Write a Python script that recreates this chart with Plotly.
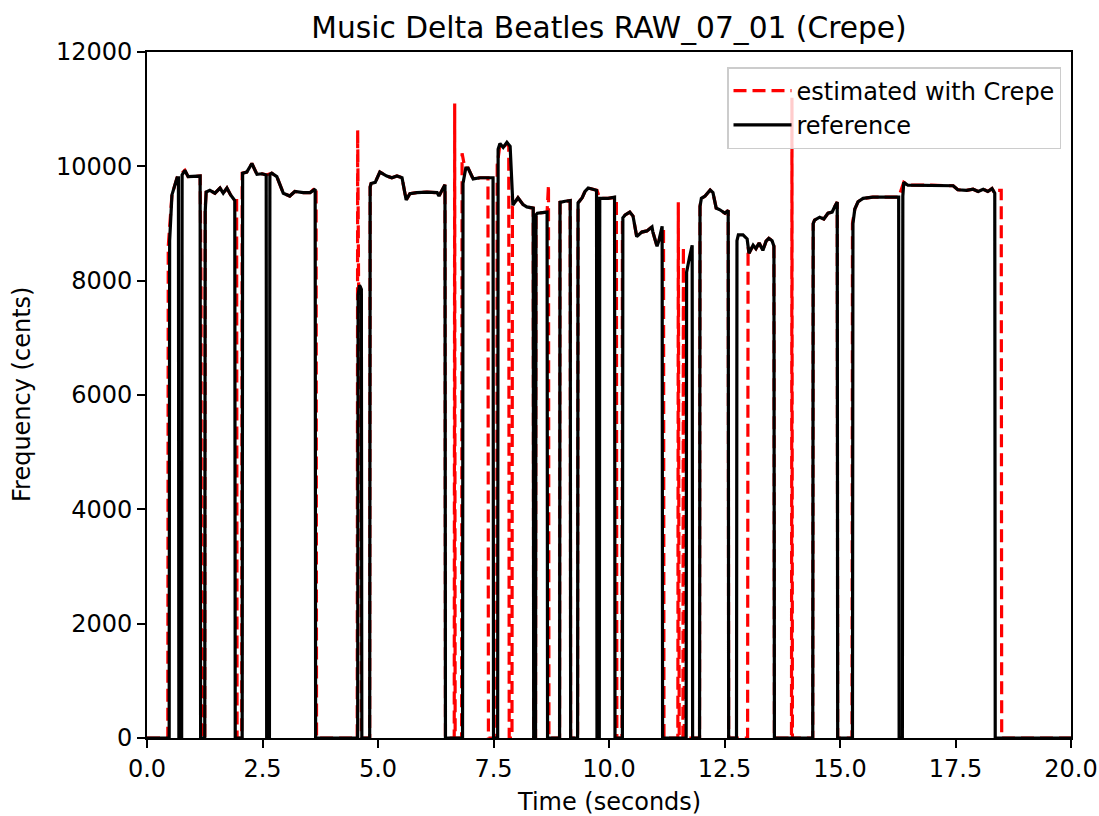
import plotly.graph_objects as go

# Reference pitch contour (seconds, cents); 0 = unvoiced
ref_time = [0.00, 0.48, 0.49, 0.54, 0.65, 0.68, 0.69, 0.75, 0.76, 0.82, 0.89, 1.15, 1.16,
            1.25, 1.26, 1.28, 1.36, 1.47, 1.58, 1.65, 1.73, 1.81, 1.90, 1.91,
            2.06, 2.07, 2.16, 2.27, 2.38, 2.49, 2.58, 2.59, 2.65, 2.66, 2.70, 2.81, 2.95, 3.09, 3.20, 3.38, 3.53, 3.64, 3.65,
            4.56, 4.57, 4.60, 4.64, 4.65,
            4.82, 4.83, 4.85, 4.94, 5.04, 5.19, 5.30, 5.41, 5.52, 5.61, 5.69, 5.84, 6.06, 6.28, 6.32, 6.45, 6.46,
            6.83, 6.84, 6.90, 6.95, 7.06, 7.21, 7.36, 7.49, 7.50,
            7.59, 7.60, 7.64, 7.71, 7.79, 7.86, 7.92, 8.03, 8.07, 8.14, 8.22, 8.36, 8.37, 8.41, 8.42, 8.45, 8.66, 8.67,
            8.93, 8.94, 9.05, 9.16, 9.17,
            9.32, 9.33, 9.42, 9.48, 9.55, 9.65, 9.73, 9.74, 9.79, 9.80, 9.98, 10.12, 10.13,
            10.29, 10.30, 10.35, 10.45, 10.52, 10.60, 10.71, 10.82, 10.93, 10.95, 11.04, 11.08, 11.15, 11.16,
            11.67, 11.68, 11.74, 11.80, 11.81,
            11.96, 11.97, 12.00, 12.08, 12.19, 12.25, 12.32, 12.40, 12.51, 12.58, 12.59,
            12.76, 12.77, 12.80, 12.90, 12.99, 13.03, 13.12, 13.18, 13.25, 13.33, 13.40, 13.46, 13.53, 13.57, 13.58,
            14.41, 14.42, 14.45, 14.56, 14.65, 14.74, 14.83, 14.89, 14.94, 14.95,
            15.27, 15.28, 15.32, 15.39, 15.50, 15.71, 16.00, 16.27, 16.28, 16.35, 16.36, 16.38, 16.47, 16.95, 17.45,
            17.55, 17.74, 17.88, 17.99, 18.10, 18.20, 18.29, 18.35, 18.36,
            20.00]
ref_cents = [0, 0, 8700, 9500, 9800, 9800, 0, 0, 9850, 9930, 9820, 9830, 0,
             0, 9200, 9550, 9580, 9530, 9620, 9530, 9620, 9500, 9400, 0,
             0, 9880, 9900, 10050, 9860, 9870, 9850, 0, 0, 9860, 9880, 9820, 9530, 9480, 9560, 9540, 9540, 9600, 0,
             0, 7750, 7920, 7850, 0,
             0, 9640, 9700, 9720, 9900, 9830, 9800, 9830, 9800, 9410, 9520, 9540, 9550, 9540, 9480, 9680, 0,
             0, 9700, 9970, 9970, 9780, 9800, 9800, 9800, 0,
             0, 10300, 10400, 10330, 10420, 10350, 9320, 9450, 9410, 9330, 9290, 9270, 0, 0, 9150, 9180, 9200, 0,
             0, 9370, 9390, 9400, 0,
             0, 9360, 9450, 9560, 9620, 9600, 9580, 0, 0, 9440, 9440, 9460, 0,
             0, 9100, 9150, 9200, 9130, 8770, 8850, 8870, 8940, 8850, 8600, 8700, 8950, 0,
             0, 8150, 8400, 8620, 0,
             0, 9300, 9440, 9480, 9585, 9540, 9270, 9240, 9180, 9230, 0,
             0, 8700, 8800, 8800, 8730, 8480, 8620, 8560, 8660, 8530, 8690, 8740, 8700, 8600, 0,
             0, 9000, 9060, 9110, 9080, 9180, 9200, 9300, 9375, 0,
             0, 9000, 9250, 9380, 9440, 9460, 9460, 9460, 0, 0, 9480, 9720, 9670, 9670, 9660,
             9590, 9580, 9600, 9560, 9600, 9560, 9610, 9530, 0,
             0]

# Crepe estimate (seconds, cents)
est_time = [0.00, 0.45, 0.46, 0.54, 0.65, 0.82, 0.89, 1.15, 1.17, 1.18,
            1.25, 1.26, 1.28, 1.36, 1.47, 1.58, 1.65, 1.73, 1.81, 1.90, 1.94, 1.95,
            2.05, 2.06, 2.16, 2.27, 2.38, 2.49, 2.58, 2.70, 2.81, 2.95, 3.09, 3.20, 3.38, 3.53, 3.66, 3.67,
            4.55, 4.56, 4.58, 4.62, 4.64,
            4.82, 4.83, 4.85, 4.94, 5.04, 5.19, 5.30, 5.41, 5.52, 5.61, 5.69, 5.84, 6.06, 6.28, 6.32, 6.45, 6.46,
            6.65, 6.66, 6.67, 6.81, 6.82, 6.88, 6.95, 7.06, 7.21, 7.38, 7.39,
            7.57, 7.58, 7.64, 7.71, 7.79, 7.83, 7.84, 7.90, 7.91, 8.03, 8.07, 8.14, 8.22, 8.36, 8.37, 8.41, 8.42,
            8.45, 8.66, 8.69, 8.70,
            8.93, 8.94, 9.05, 9.16, 9.17,
            9.32, 9.33, 9.42, 9.48, 9.55, 9.65, 9.74, 9.80, 9.98, 10.16, 10.17,
            10.28, 10.29, 10.35, 10.45, 10.52, 10.60, 10.71, 10.82, 10.93, 10.95, 11.04, 11.08, 11.18, 11.19,
            11.49, 11.50, 11.52, 11.60, 11.61, 11.63,
            11.96, 11.97, 12.00, 12.08, 12.19, 12.25, 12.32, 12.40, 12.51, 12.58, 12.59,
            13.00, 13.01, 13.03, 13.12, 13.18, 13.25, 13.33, 13.40, 13.46, 13.53, 13.57, 13.58,
            13.95, 13.96, 13.97,
            14.41, 14.42, 14.45, 14.56, 14.65, 14.74, 14.83, 14.89, 14.94, 14.95,
            15.26, 15.27, 15.32, 15.39, 15.50, 15.71, 16.00, 16.27, 16.38, 16.47, 16.95, 17.45, 17.55, 17.74,
            17.88, 17.99, 18.10, 18.20, 18.29, 18.35, 18.40, 18.49, 18.50,
            20.00]
est_cents = [0, 0, 8600, 9500, 9800, 9930, 9820, 9830, 7960, 0,
             0, 9270, 9550, 9580, 9530, 9620, 9530, 9620, 9500, 9400, 9400, 0,
             0, 9880, 9900, 10050, 9860, 9870, 9850, 9880, 9820, 9530, 9480, 9560, 9540, 9540, 9640, 0,
             0, 10640, 7900, 7880, 0,
             0, 9640, 9700, 9720, 9900, 9830, 9800, 9830, 9800, 9410, 9520, 9540, 9550, 9540, 9480, 9680, 0,
             0, 11100, 0, 0, 10230, 9970, 9970, 9780, 9800, 9800, 0,
             0, 10020, 10380, 10330, 10400, 10350, 0, 0, 9300, 9450, 9410, 9330, 9290, 9270, 0, 0, 9150,
             9180, 9200, 9670, 0,
             0, 9370, 9390, 9400, 0,
             0, 9360, 9450, 9560, 9620, 9600, 9580, 9440, 9440, 9460, 0,
             0, 9100, 9150, 9200, 9130, 8770, 8850, 8870, 8940, 8850, 8600, 8700, 8940, 0,
             0, 9370, 0, 0, 8590, 0,
             0, 9300, 9440, 9480, 9585, 9540, 9270, 9240, 9180, 9230, 0,
             0, 8590, 8480, 8620, 8560, 8660, 8530, 8690, 8740, 8700, 8600, 0,
             0, 11200, 0,
             0, 9000, 9060, 9110, 9080, 9180, 9200, 9300, 9375, 0,
             0, 9000, 9250, 9380, 9440, 9460, 9460, 9460, 9720, 9670, 9670, 9660, 9590, 9580,
             9600, 9560, 9600, 9560, 9610, 9530, 9580, 9580, 0,
             0]

x_tick_vals = [0, 2.5, 5, 7.5, 10, 12.5, 15, 17.5, 20]
x_tick_text = ["0.0", "2.5", "5.0", "7.5", "10.0", "12.5", "15.0", "17.5", "20.0"]
y_tick_vals = [0, 2000, 4000, 6000, 8000, 10000, 12000]

assert len(ref_time) == len(ref_cents)
assert len(est_time) == len(est_cents)

W, H = 1099, 816
L, R, T, B = 147, 1071, 52, 738
pw, ph = R - L, B - T

fig = go.Figure()
fig.add_trace(go.Scatter(x=est_time, y=est_cents, mode="lines", name="estimated with Crepe",
                         line=dict(color="red", width=3.2, dash="13px,6px")))
fig.add_trace(go.Scatter(x=ref_time, y=ref_cents, mode="lines", name="reference",
                         line=dict(color="black", width=3.2)))

axis_common = dict(showgrid=False, zeroline=False, showline=True, mirror=True,
                   linecolor="black", linewidth=1.9, ticks="outside", ticklen=8,
                   tickwidth=1.9, tickcolor="black", automargin=False,
                   ticklabeloverflow="allow",
                   tickfont=dict(family="DejaVu Sans", size=24, color="black"))

fig.update_xaxes(range=[0, 20], tickmode="array", tickvals=x_tick_vals, ticktext=x_tick_text,
                 **axis_common)
fig.update_yaxes(range=[0, 12000], tickmode="array", tickvals=y_tick_vals,
                 ticktext=[str(v) for v in y_tick_vals], **axis_common)

fig.update_layout(
    width=W, height=H,
    margin=dict(l=L, r=W - R, t=T, b=H - B, autoexpand=False),
    paper_bgcolor="white", plot_bgcolor="white",
    font=dict(family="DejaVu Sans", size=24, color="black"),
    title=dict(text="Music Delta Beatles RAW_07_01 (Crepe)", x=0.5, xref="paper", xanchor="center",
               y=1 - 28 / H, yref="container", yanchor="middle",
               font=dict(family="DejaVu Sans", size=29.7, color="black")),
    showlegend=True,
    legend=dict(x=(1061 - L) / pw, y=(B - 67) / ph, xanchor="right", yanchor="top",
                bgcolor="rgba(255,255,255,0.8)", bordercolor="#cccccc", borderwidth=1.5,
                font=dict(family="DejaVu Sans", size=24, color="black"),
                itemwidth=58, tracegroupgap=0),
    annotations=[
        dict(text="Time (seconds)", x=0.5, y=(B - 802) / ph, xref="paper", yref="paper",
             xanchor="center", yanchor="middle", showarrow=False,
             font=dict(family="DejaVu Sans", size=24, color="black")),
        dict(text="Frequency (cents)", x=(22 - L) / pw, y=0.5, xref="paper", yref="paper",
             xanchor="center", yanchor="middle", textangle=-90, showarrow=False,
             font=dict(family="DejaVu Sans", size=24, color="black")),
    ],
)

fig.write_html("out.html")
